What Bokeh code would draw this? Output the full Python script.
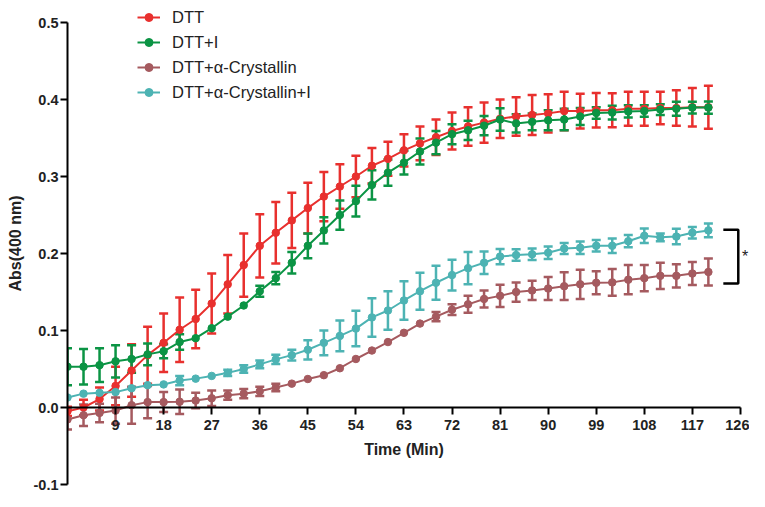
from bokeh.plotting import figure
from bokeh.models import (ColumnDataSource, Whisker, TeeHead, Legend, LegendItem,
                          FixedTicker, Label, NumeralTickFormatter, Range1d)
from bokeh.embed import file_html
from bokeh.resources import INLINE

# ---------------- data ----------------
time_min = list(range(0, 121, 3))

dtt = [-0.005, 0.000, 0.011, 0.028, 0.048, 0.068, 0.084, 0.101, 0.115, 0.135,
       0.160, 0.185, 0.210, 0.227, 0.243, 0.259, 0.274, 0.287, 0.300, 0.314,
       0.323, 0.334, 0.343, 0.351, 0.359, 0.365, 0.370, 0.375, 0.378, 0.380,
       0.382, 0.385, 0.385, 0.386, 0.386, 0.388, 0.388, 0.389, 0.389, 0.390,
       0.390]
dtt_err = [0.006, 0.010, 0.015, 0.025, 0.034, 0.037, 0.038, 0.042, 0.038, 0.039,
           0.038, 0.041, 0.041, 0.040, 0.036, 0.033, 0.032, 0.029, 0.027, 0.023,
           0.022, 0.021, 0.022, 0.023, 0.024, 0.025, 0.026, 0.025, 0.025, 0.026,
           0.025, 0.025, 0.0225, 0.0225, 0.022, 0.022, 0.022, 0.021, 0.023, 0.025,
           0.028]

dtt_i = [0.053, 0.053, 0.055, 0.060, 0.063, 0.069, 0.073, 0.085, 0.090, 0.103,
         0.118, 0.1325, 0.151, 0.168, 0.188, 0.210, 0.230, 0.250, 0.268, 0.289,
         0.305, 0.318, 0.3325, 0.344, 0.355, 0.360, 0.366, 0.374, 0.369, 0.371,
         0.373, 0.374, 0.378, 0.3825, 0.383, 0.3845, 0.385, 0.387, 0.388, 0.3895,
         0.3895]
dtt_i_err = [0.024, 0.023, 0.022, 0.021, 0.018, 0.014, 0.009, 0.010, 0.0, 0.0,
             0.0, 0.0, 0.007, 0.008, 0.014, 0.016, 0.017, 0.019, 0.020, 0.019,
             0.017, 0.0155, 0.017, 0.015, 0.013, 0.0125, 0.0125, 0.0145, 0.012, 0.011,
             0.013, 0.014, 0.011, 0.0075, 0.009, 0.008, 0.0075, 0.007, 0.009, 0.0075,
             0.008]

dtt_cry = [-0.0155, -0.010, -0.007, -0.004, 0.003, 0.007, 0.007, 0.0075, 0.009, 0.012,
           0.016, 0.018, 0.021, 0.026, 0.031, 0.037, 0.042, 0.051, 0.063, 0.074,
           0.085, 0.097, 0.109, 0.118, 0.127, 0.134, 0.141, 0.145, 0.150, 0.152,
           0.1545, 0.1575, 0.160, 0.162, 0.1625, 0.166, 0.168, 0.171, 0.171, 0.174,
           0.176]
dtt_cry_err = [0.013, 0.014, 0.012, 0.017, 0.024, 0.021, 0.013, 0.016, 0.010, 0.010,
               0.006, 0.006, 0.006, 0.005, 0.0, 0.0, 0.0, 0.0, 0.0, 0.0,
               0.0, 0.0, 0.0, 0.006, 0.007, 0.011, 0.011, 0.0145, 0.0125, 0.0125,
               0.015, 0.018, 0.019, 0.015, 0.0175, 0.019, 0.017, 0.017, 0.015, 0.015,
               0.0175]

dtt_cry_i = [0.013, 0.018, 0.019, 0.020, 0.025, 0.029, 0.030, 0.035, 0.0375, 0.041,
             0.045, 0.050, 0.056, 0.0625, 0.068, 0.075, 0.084, 0.093, 0.1025, 0.117,
             0.126, 0.139, 0.151, 0.162, 0.172, 0.181, 0.188, 0.196, 0.198, 0.199,
             0.201, 0.2065, 0.2075, 0.210, 0.210, 0.216, 0.223, 0.221, 0.222, 0.227,
             0.230]
dtt_cry_i_err = [0.0, 0.0, 0.0, 0.0, 0.0, 0.0, 0.0, 0.006, 0.0, 0.0,
                 0.004, 0.005, 0.005, 0.006, 0.007, 0.0125, 0.016, 0.020, 0.023, 0.025,
                 0.025, 0.025, 0.024, 0.022, 0.020, 0.021, 0.0145, 0.010, 0.0075, 0.0075,
                 0.008, 0.007, 0.008, 0.0075, 0.0095, 0.008, 0.0095, 0.005, 0.010, 0.0075,
                 0.009]

series_names = ["DTT", "DTT+I", "DTT+\u03b1-Crystallin", "DTT+\u03b1-Crystallin+I"]
series_colors = ["#e8302e", "#0b9444", "#a55a5f", "#4db3b3"]

x_ticks = [9, 18, 27, 36, 45, 54, 63, 72, 81, 90, 99, 108, 117, 126]
y_ticks = [-0.1, 0.0, 0.1, 0.2, 0.3, 0.4, 0.5]

# significance bracket between the two crystallin curves
bracket_x = [122.8, 125.6]
bracket_y = [0.231, 0.161]
bracket_text = "*"
star_x = 126.9

FONT = "Liberation Sans"

# ---------------- figure ----------------
p = figure(width=749, height=491, output_backend="svg", toolbar_location=None,
           x_range=Range1d(0, 127.7), y_range=Range1d(-0.1, 0.526),
           min_border_left=67, min_border_right=0, min_border_top=2, min_border_bottom=7)
p.outline_line_color = None
p.grid.visible = False
p.background_fill_color = "white"
p.border_fill_color = "white"

legend_items = []
for name, ys, errs, col in zip(series_names, [dtt, dtt_i, dtt_cry, dtt_cry_i],
                               [dtt_err, dtt_i_err, dtt_cry_err, dtt_cry_i_err],
                               series_colors):
    wt = [t for t, e in zip(time_min, errs) if e > 0]
    wlo = [y - e for y, e in zip(ys, errs) if e > 0]
    whi = [y + e for y, e in zip(ys, errs) if e > 0]
    wsrc = ColumnDataSource(dict(t=wt, lo=wlo, hi=whi))
    w = Whisker(base="t", lower="lo", upper="hi", source=wsrc, dimension="height",
                line_color=col, line_width=2.5,
                upper_head=TeeHead(size=9, line_color=col, line_width=2.5),
                lower_head=TeeHead(size=9, line_color=col, line_width=2.5))
    p.add_layout(w)
    src = ColumnDataSource(dict(t=time_min, y=ys))
    lr = p.line("t", "y", source=src, line_color=col, line_width=2)
    sr = p.scatter("t", "y", source=src, size=7.5, fill_color=col, line_color=col)
    legend_items.append(LegendItem(label=name, renderers=[lr, sr]))

# bracket + star
p.line([bracket_x[0], bracket_x[1], bracket_x[1], bracket_x[0]],
       [bracket_y[0], bracket_y[0], bracket_y[1], bracket_y[1]],
       line_color="black", line_width=2.5)
p.add_layout(Label(x=star_x, y=(bracket_y[0] + bracket_y[1]) / 2, text=bracket_text,
                   text_align="center", text_baseline="middle",
                   text_font=FONT, text_font_size="16px", text_color="#222222"))

# axes
xa = p.xaxis[0]
xa.fixed_location = 0
xa.bounds = (0, 126)
xa.ticker = FixedTicker(ticks=x_ticks, minor_ticks=[])
xa.axis_label = "Time (Min)"

ya = p.yaxis[0]
ya.bounds = (-0.1, 0.5)
ya.ticker = FixedTicker(ticks=y_ticks, minor_ticks=[])
ya.formatter = NumeralTickFormatter(format="0.0")
ya.axis_label = "Abs(400 nm)"

for ax in (xa, ya):
    ax.axis_line_width = 2
    ax.axis_line_color = "black"
    ax.major_tick_line_width = 2
    ax.major_tick_line_color = "black"
    ax.major_tick_out = 7
    ax.major_tick_in = 0
    ax.minor_tick_line_color = None
    ax.major_label_text_font = FONT
    ax.major_label_text_font_style = "bold"
    ax.major_label_text_font_size = "14.5px"
    ax.major_label_text_color = "#222222"
    ax.axis_label_text_font = FONT
    ax.axis_label_text_font_style = "bold"
    ax.axis_label_text_font_size = "16px"
    ax.axis_label_text_color = "#222222"

xa.major_label_standoff = 5
xa.axis_label_standoff = 8
ya.major_label_standoff = 2
ya.axis_label_standoff = 7

legend = Legend(items=legend_items, location=(70, 382), orientation="vertical",
                border_line_color=None, background_fill_alpha=0,
                padding=0, margin=0, spacing=5,
                glyph_width=23, glyph_height=20, label_height=20, label_standoff=12,
                label_text_font=FONT, label_text_font_size="16.5px",
                label_text_color="#222222")
p.add_layout(legend)

open("out.html", "w").write(file_html(p, INLINE))
